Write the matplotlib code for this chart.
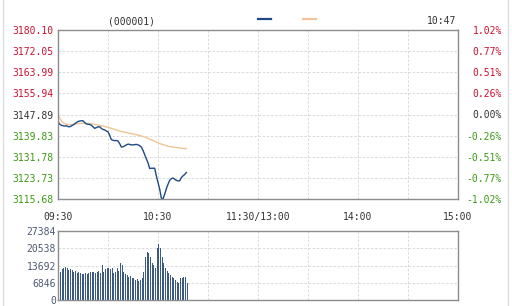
import matplotlib
matplotlib.use('Agg')
import matplotlib.pyplot as plt
import numpy as np
from matplotlib.lines import Line2D

# minute-by-minute values 09:30 - 10:47
price = [3145.2, 3144.2, 3143.8, 3143.6, 3143.5, 3143.6, 3143.3, 3143.2, 3143.5, 3143.9,
         3144.3, 3144.8, 3145.2, 3145.4, 3145.5, 3145.5, 3144.8, 3144.3, 3144.2, 3144.1,
         3143.8, 3143.2, 3142.6, 3142.9, 3143.2, 3143.2, 3142.6, 3142.2, 3142.0, 3141.6,
         3141.3, 3140.0, 3138.3, 3138.1, 3137.9, 3138.0, 3137.8, 3136.8, 3135.5, 3135.6,
         3135.9, 3136.3, 3136.6, 3136.5, 3136.3, 3136.3, 3136.4, 3136.5, 3136.3, 3136.0,
         3135.5, 3134.2, 3132.6, 3131.0, 3129.5, 3127.3, 3127.4, 3127.4, 3127.4, 3124.5,
         3122.0, 3119.5, 3116.0, 3115.7, 3117.5, 3119.6, 3121.3, 3122.8, 3123.4, 3123.7,
         3123.2, 3122.8, 3122.6, 3122.6, 3123.8, 3124.5, 3125.0, 3125.8]
avg_price = [3147.5, 3146.5, 3145.5, 3144.8, 3144.4, 3144.2, 3144.1, 3144.0, 3144.0, 3144.1,
             3144.2, 3144.3, 3144.4, 3144.5, 3144.5, 3144.5, 3144.5, 3144.5, 3144.4, 3144.4,
             3144.3, 3144.2, 3144.1, 3144.0, 3143.9, 3143.7, 3143.6, 3143.5, 3143.3, 3143.2,
             3143.0, 3142.8, 3142.6, 3142.4, 3142.2, 3142.0, 3141.8, 3141.6, 3141.4, 3141.3,
             3141.1, 3141.0, 3140.9, 3140.7, 3140.6, 3140.5, 3140.3, 3140.2, 3140.0, 3139.9,
             3139.7, 3139.5, 3139.3, 3139.0, 3138.8, 3138.5, 3138.2, 3138.0, 3137.7, 3137.4,
             3137.1, 3136.9, 3136.6, 3136.4, 3136.2, 3136.0, 3135.8, 3135.7, 3135.6, 3135.5,
             3135.4, 3135.3, 3135.2, 3135.1, 3135.1, 3135.0, 3134.9, 3134.9]
volume = [12570, 11245, 12300, 12830, 13230, 12830, 11900, 12170, 11900, 11245,
          11640, 10850, 11245, 10580, 10190, 10450, 10580, 10190, 10850, 11245,
          10980, 11245, 10850, 11245, 11510, 10850, 13890, 10980, 12300, 12830,
          12570, 12170, 12830, 10580, 11245, 12570, 11510, 14550, 13890, 11245,
          10190, 9920, 9260, 9530, 8600, 8860, 7940, 8200, 7540, 7940,
          8600, 11245, 17200, 19180, 18520, 17200, 14550, 13890, 12830, 20500,
          22230, 20500, 17200, 14550, 12570, 11510, 10580, 9920, 9260, 8860,
          7940, 7280, 6620, 8600, 8860, 9260, 9260, 6620]

price_ticks = ['3115.68', '3123.73', '3131.78', '3139.83', '3147.89',
               '3155.94', '3163.99', '3172.05', '3180.10']
pct_ticks = ['-1.02%', '-0.77%', '-0.51%', '-0.26%', '0.00%',
             '0.26%', '0.51%', '0.77%', '1.02%']
vol_ticks = ['0', '6846', '13692', '20538', '27384']
x_labels = ['09:30', '10:30', '11:30/13:00', '14:00', '15:00']

RED = '#cc1030'
GREEN = '#3c9a14'
GRAY = '#333333'
mono = 'DejaVu Sans Mono'
fs = 7

W, H = 512, 306
fig = plt.figure(figsize=(W / 100, H / 100), dpi=100)


def box(l, t, r, b):
    return [l / W, 1 - b / H, (r - l) / W, (b - t) / H]


def style(ax):
    for s in ax.spines.values():
        s.set_color('#8c8c8c')
        s.set_linewidth(1.0)
    ax.tick_params(length=0)
    ax.grid(True, color='#d4d4d4', linestyle=(0, (3, 2)), linewidth=0.6)
    ax.set_axisbelow(True)


minutes = np.arange(len(price))

# price panel
ax = fig.add_axes(box(58, 30, 458, 199))
style(ax)
ymin, ymax = float(price_ticks[0]), float(price_ticks[-1])
ax.set_xlim(0, 240)
ax.set_ylim(ymin, ymax)
ax.set_xticks(np.arange(0, 241, 30))
ax.set_xticklabels(['' for _ in range(9)])
ax.set_yticks(np.linspace(ymin, ymax, 9))
ax.set_yticklabels(price_ticks, fontsize=fs, family=mono)
ax.tick_params(axis='y', pad=3.5)
for i, lab in enumerate(ax.get_yticklabels()):
    lab.set_color(GREEN if i < 4 else (GRAY if i == 4 else RED))
ax.plot(minutes, avg_price, color='#f0c494', lw=1.0)
ax.plot(minutes, price, color='#1c4a84', lw=1.0)

ax2 = ax.twinx()
ax2.set_ylim(ymin, ymax)
ax2.set_yticks(np.linspace(ymin, ymax, 9))
ax2.set_yticklabels(pct_ticks, fontsize=fs, family=mono, ha='right')
ax2.tick_params(length=0, pad=31.5)
for s in ax2.spines.values():
    s.set_visible(False)
for i, lab in enumerate(ax2.get_yticklabels()):
    lab.set_color(GREEN if i < 4 else (GRAY if i == 4 else RED))

for xl, xv in zip(x_labels, [0, 60, 120, 180, 240]):
    ax.text(xv, -0.105, xl, transform=ax.get_xaxis_transform(), ha='center', va='center',
            fontsize=fs, family=mono, color=GRAY)

# volume panel
axv = fig.add_axes(box(58, 231, 458, 300))
style(axv)
axv.set_xlim(0, 240)
axv.set_ylim(0, 27384)
axv.set_xticks(np.arange(0, 241, 30))
axv.set_xticklabels([])
axv.set_yticks([int(v) for v in vol_ticks])
axv.set_yticklabels(vol_ticks, fontsize=fs, family=mono, color='#4e5a72')
axv.tick_params(axis='y', pad=1.5)
axv.bar(np.arange(len(volume)) + 0.5, volume, width=0.7, color='#3a5a82')

# header
fig.text(131 / W, 1 - 21 / H, '(000001)', ha='center', va='center', fontsize=fs,
         family=mono, color=GRAY)
fig.text(442 / W, 1 - 21 / H, '10:47', ha='center', va='center', fontsize=fs,
         family=mono, color=GRAY)
fig.add_artist(Line2D([258 / W, 271 / W], [1 - 19 / H] * 2, color='#1c4a84', lw=1.6))
fig.add_artist(Line2D([303 / W, 316 / W], [1 - 19 / H] * 2, color='#f0c494', lw=1.6))

# outer frame lines
fig.add_artist(Line2D([3 / W] * 2, [0, 1], color='#dddddd', lw=1))
fig.add_artist(Line2D([508 / W] * 2, [0, 1], color='#dddddd', lw=1))

fig.savefig('out.png', dpi=100)
